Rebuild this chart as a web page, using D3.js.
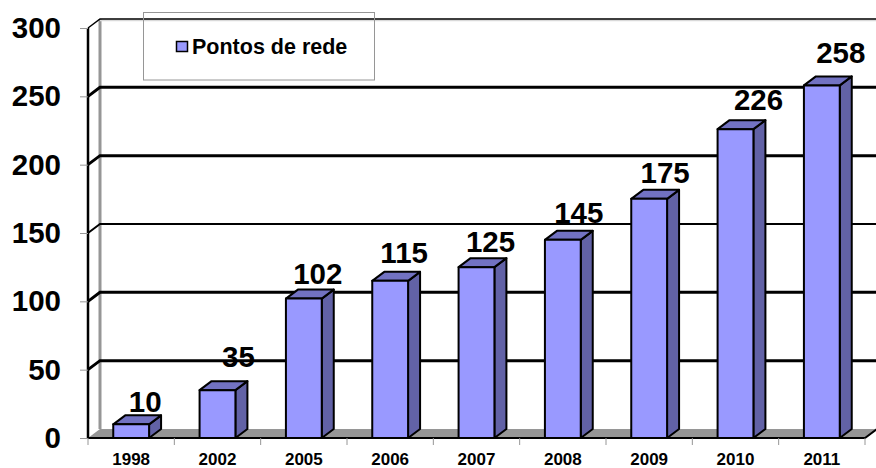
<!DOCTYPE html>
<html>
<head>
<meta charset="utf-8">
<script src="https://d3js.org/d3.v7.min.js"></script>
<style>
  html, body { margin: 0; background: #fff; }
  svg { display: block; }
  text { font-family: "Liberation Sans", Arial, sans-serif; font-weight: bold; fill: #000; }
</style>
</head>
<body>
<script>
var years = ["1998", "2002", "2005", "2006", "2007", "2008", "2009", "2010", "2011"];
var pontos = [10, 35, 102, 115, 125, 145, 175, 226, 258];
var yTicks = [0, 50, 100, 150, 200, 250, 300];
var seriesName = "Pontos de rede";

// hand placed data labels in the original, offset from the top of each bar
var labelDx = [14, 21, 14, 14, 14, 16, 16, 23, 19];
var labelDy = [-12, -23, -15, -18, -15, -17, -16, -19, -22];

var width = 876, height = 468;
var depthX = 12, depthY = -9;

var svg = d3.select("body").append("svg")
  .attr("width", width).attr("height", height);

var x = d3.scaleBand().domain(years).range([88, 865]).paddingInner(0.585).paddingOuter(0.2925);
var y = d3.scaleLinear().domain([0, 300]).range([438, 28]);

// back wall and floor
svg.append("path")
  .attr("d", "M" + x.range()[0] + "," + y(0) + "l" + depthX + "," + depthY +
    "H" + (x.range()[1] + depthX) + "l" + (-depthX) + "," + (-depthY) + "Z")
  .attr("fill", "#969696");

svg.append("line")
  .attr("x1", 88 + depthX).attr("x2", 88 + depthX)
  .attr("y1", y(300) + depthY).attr("y2", y(0) + depthY)
  .attr("stroke", "#969696").attr("stroke-width", 3);

// light edge under the top of the back wall
svg.append("line")
  .attr("x1", 88 + depthX).attr("x2", 865 + depthX)
  .attr("y1", y(300) + depthY + 1.5).attr("y2", y(300) + depthY + 1.5)
  .attr("stroke", "#d9d9d9").attr("stroke-width", 1.5);

// gridlines run along the back wall and fold to the axis
svg.append("g").selectAll("path").data(yTicks.slice(1)).join("path")
  .attr("fill", "none")
  .attr("stroke", "#000")
  .attr("stroke-width", function (d) { return d == 300 ? 1.5 : d == 150 ? 2 : 3; })
  .attr("d", function (d) {
    return "M88," + y(d) + "l" + depthX + "," + depthY + "H" + (865 + depthX);
  });

svg.append("line")
  .attr("x1", 88).attr("x2", 88).attr("y1", y(300)).attr("y2", y(0))
  .attr("stroke", "#000").attr("stroke-width", 2.5);
svg.append("path")
  .attr("d", "M88," + y(0) + "H865l" + depthX + "," + depthY)
  .attr("fill", "none").attr("stroke", "#000").attr("stroke-width", 2);

// axes
var yAxis = svg.append("g")
  .attr("transform", "translate(88,0)")
  .call(d3.axisLeft(y).tickValues(yTicks).tickSize(8).tickPadding(19));
yAxis.select(".domain").remove();
yAxis.selectAll("line").attr("stroke", "#969696");
yAxis.selectAll("text").style("font-size", "29.5px").attr("dy", "0.32em");

var xAxis = svg.append("g")
  .attr("transform", "translate(0," + y(0) + ")")
  .call(d3.axisBottom(x).tickSize(0).tickPadding(15));
xAxis.select(".domain").remove();
xAxis.selectAll("text").style("font-size", "17px");
xAxis.selectAll("line").remove();

var step = x.step();
svg.append("g").selectAll("line").data(d3.range(years.length + 1)).join("line")
  .attr("x1", function (i) { return 88 + i * step; })
  .attr("x2", function (i) { return 88 + i * step; })
  .attr("y1", y(0)).attr("y2", y(0) + 7)
  .attr("stroke", "#969696");

// bars
var bars = svg.append("g").selectAll("g").data(years).join("g");

bars.append("path")
  .attr("fill", "#6262a6")
  .attr("d", function (d, i) {
    var r = x(d) + x.bandwidth();
    return "M" + r + "," + y(pontos[i]) + "l" + depthX + "," + depthY +
      "V" + (y(0) + depthY) + "l" + (-depthX) + "," + (-depthY) + "Z";
  });
bars.append("path")
  .attr("fill", "#7272c2")
  .attr("d", function (d, i) {
    return "M" + x(d) + "," + y(pontos[i]) + "l" + depthX + "," + depthY +
      "h" + x.bandwidth() + "l" + (-depthX) + "," + (-depthY) + "Z";
  });
bars.append("rect")
  .attr("x", function (d) { return x(d); })
  .attr("y", function (d, i) { return y(pontos[i]); })
  .attr("width", x.bandwidth())
  .attr("height", function (d, i) { return y(0) - y(pontos[i]); })
  .attr("fill", "#9999ff");
bars.selectAll("path,rect")
  .attr("stroke", "#000").attr("stroke-width", 2).attr("stroke-linejoin", "round");

bars.append("text")
  .attr("x", function (d, i) { return x(d) + x.bandwidth() / 2 + labelDx[i]; })
  .attr("y", function (d, i) { return y(pontos[i]) + labelDy[i]; })
  .attr("text-anchor", "middle")
  .style("font-size", "29.5px")
  .text(function (d, i) { return pontos[i]; });

// legend
var legend = svg.append("g");
legend.append("rect")
  .attr("x", 143.5).attr("y", 12.5).attr("width", 231).attr("height", 67.5)
  .attr("fill", "none").attr("stroke", "#969696");
legend.append("rect")
  .attr("x", 176.5).attr("y", 41.5).attr("width", 11).attr("height", 10)
  .attr("fill", "#9999ff").attr("stroke", "#000").attr("stroke-width", 1.5);
legend.append("text")
  .attr("x", 192).attr("y", 54)
  .style("font-size", "21.5px")
  .text(seriesName);
</script>
</body>
</html>
